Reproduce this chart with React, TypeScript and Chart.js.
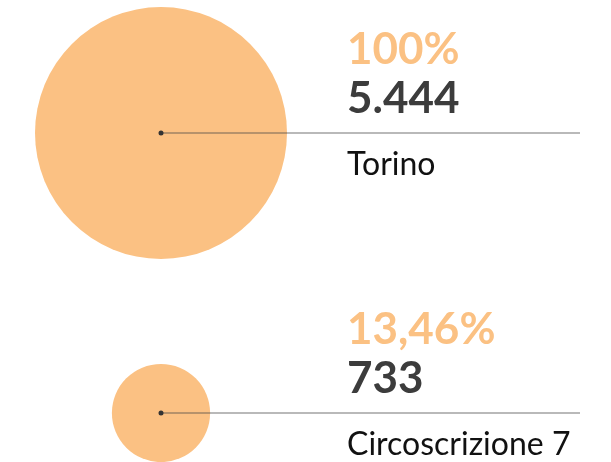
import React, { useEffect, useRef } from "react";
import { Chart, registerables, BubbleController } from "chart.js";

Chart.register(...registerables);

class FreeBubbleController extends BubbleController {
  getMaxOverflow(): any {
    return false;
  }
}
(FreeBubbleController as any).id = "freeBubble";
(FreeBubbleController as any).defaults = (BubbleController as any).defaults;
(FreeBubbleController as any).overrides = (BubbleController as any).overrides;
Chart.register(FreeBubbleController as any);

const categories = ["Torino", "Circoscrizione 7"];
const values = [5444, 733];

const ORANGE = "#fbc183";
const DARK = "#3c3c3c";

function formatThousands(v: number): string {
  return String(v).replace(/\B(?=(\d{3})+(?!\d))/g, ".");
}
function formatPercent(p: number): string {
  if (Math.abs(p - Math.round(p)) < 1e-9) return `${Math.round(p)}%`;
  return p.toFixed(2).replace(".", ",") + "%";
}

const maxValue = Math.max(...values);
const percents = values.map((v) => (v / maxValue) * 100);

const labelPlugin = {
  id: "bubbleLabels",
  afterDatasetsDraw(chart: any) {
    const { ctx, chartArea } = chart;
    const meta = chart.getDatasetMeta(0);
    ctx.save();
    meta.data.forEach((el: any, i: number) => {
      const cx = el.x;
      const cy = el.y;
      ctx.strokeStyle = "rgba(70,70,70,0.5)";
      ctx.lineWidth = 1.5;
      ctx.beginPath();
      ctx.moveTo(cx, cy);
      ctx.lineTo(chartArea.right, cy);
      ctx.stroke();
      ctx.fillStyle = "#333333";
      ctx.beginPath();
      ctx.arc(cx, cy, 2.5, 0, Math.PI * 2);
      ctx.fill();
      const tx = cx + 186;
      ctx.textAlign = "left";
      ctx.textBaseline = "alphabetic";
      ctx.fillStyle = ORANGE;
      ctx.font = "bold 44px Lato";
      ctx.fillText(formatPercent(percents[i]), tx, cy - 69);
      ctx.fillStyle = DARK;
      ctx.font = "bold 44px Lato";
      ctx.fillText(formatThousands(values[i]), tx, cy - 20);
      ctx.fillStyle = "#111111";
      ctx.font = "32px Lato";
      ctx.fillText(categories[i], tx, cy + 42);
    });
    ctx.restore();
  },
};

export default function App() {
  const ref = useRef<HTMLCanvasElement | null>(null);
  useEffect(() => {
    if (!ref.current) return;
    const maxR = 126;
    const chart = new Chart(ref.current, {
      type: "freeBubble" as any,
      data: {
        datasets: [
          {
            data: values.map((v, i) => ({
              x: 0,
              y: i,
              r: maxR * Math.pow(v / maxValue, 0.47),
            })) as any,
            backgroundColor: ORANGE,
            hoverBackgroundColor: ORANGE,
            borderWidth: 0,
            clip: false as any,
          },
        ],
      },
      options: {
        animation: false,
        responsive: false,
        layout: { padding: { left: 161, right: 31, top: 133, bottom: 49 } },
        plugins: { legend: { display: false }, tooltip: { enabled: false } },
        events: [],
        scales: {
          x: { type: "linear", min: 0, max: 1, display: false },
          y: { type: "linear", reverse: true, min: 0, max: categories.length - 1, display: false },
        },
      } as any,
      plugins: [labelPlugin],
    });
    return () => chart.destroy();
  }, []);
  return (
    <div style={{ position: "absolute", left: 0, top: 0, width: 611, height: 462, background: "#fff" }}>
      <canvas ref={ref} width={611} height={462} style={{ width: 611, height: 462 }} />
    </div>
  );
}
